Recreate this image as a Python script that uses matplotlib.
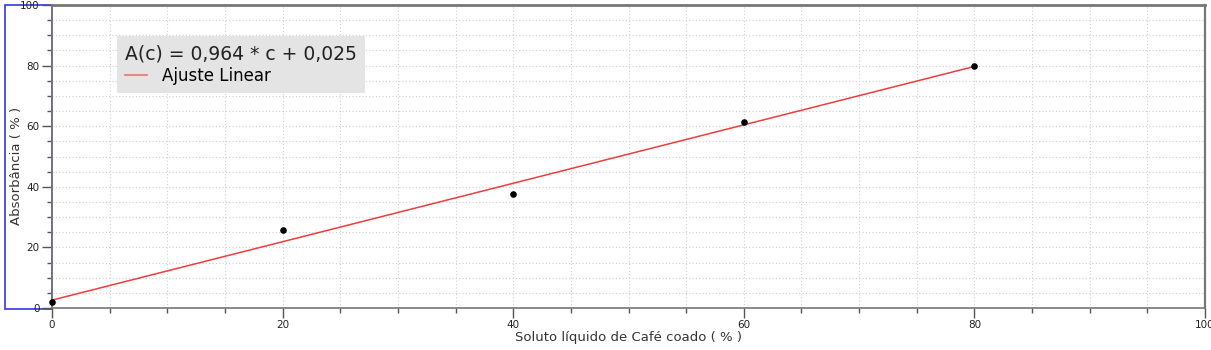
import matplotlib.pyplot as plt
from matplotlib.lines import Line2D
from matplotlib.patches import Rectangle
from matplotlib.ticker import MultipleLocator

# measured points
conc = [0, 20, 40, 60, 80]
absorb = [2.1, 25.6, 37.6, 61.4, 80.0]

# linear fit shown on the chart
slope = 0.964
intercept = 2.6
fit_x = [0, 80]
fit_y = [slope * c + intercept for c in fit_x]

fig = plt.figure(figsize=(12.11, 3.5), dpi=100)

# blue frame around the y axis area (drawn under the axes)
fig.patches.append(Rectangle((5 / 1211, 41 / 350), 47 / 1211, 304 / 350,
                             transform=fig.transFigure, fill=False,
                             edgecolor="#3333ee", lw=1.2, zorder=-5))

ax = fig.add_axes([52 / 1211, 42 / 350, 1153 / 1211, 303 / 350])
ax.patch.set_alpha(0)

ax.plot(fit_x, fit_y, color="#f03c3c", lw=1.1, zorder=3)
ax.scatter(conc, absorb, s=14, color="black", zorder=4, clip_on=False)

ax.set_xlim(0, 100)
ax.set_ylim(0, 100)
ax.xaxis.set_major_locator(MultipleLocator(20))
ax.xaxis.set_minor_locator(MultipleLocator(5))
ax.yaxis.set_major_locator(MultipleLocator(20))
ax.yaxis.set_minor_locator(MultipleLocator(5))
ax.grid(which="both", color="#cfcfcf", ls=(0, (1, 2)), lw=0.8)
ax.set_axisbelow(True)

ax.tick_params(which="major", length=7, width=1, color="#555555",
               labelsize=7.5, labelcolor="#222222", pad=2)
ax.tick_params(which="minor", length=3.5, width=1, color="#555555")
ax.tick_params(axis="x", pad=2)

for side in ["left", "bottom", "right"]:
    ax.spines[side].set_color("#777777")
    ax.spines[side].set_linewidth(1.2)
ax.spines["top"].set_color("#777777")
ax.spines["top"].set_linewidth(2)
ax.spines["right"].set_linewidth(1.6)

ax.set_xlabel("Soluto líquido de Café coado ( % )", fontsize=9.5, color="#333333")
ax.xaxis.set_label_coords(0.5, -0.075)
ax.set_ylabel("Absorbância ( % )", fontsize=9.5, color="#333333")
ax.yaxis.set_label_coords(-0.025, 0.47)

handles = [Line2D([], [], color="#f07070", lw=1.2)]
leg = ax.legend(handles, ["Ajuste Linear"], title="A(c) = 0,964 * c + 0,025",
                loc="upper left", bbox_to_anchor=(0.049, 0.925),
                fontsize=12, title_fontsize=13.5, alignment="left",
                fancybox=False, frameon=True, handlelength=1.3,
                handletextpad=0.9, borderpad=0.5, labelspacing=0.2)
leg.get_frame().set_facecolor("#e4e4e4")
leg.get_frame().set_edgecolor("none")
leg.get_frame().set_alpha(1)
leg.get_title().set_color("#222222")

fig.savefig("out.png", dpi=100)
